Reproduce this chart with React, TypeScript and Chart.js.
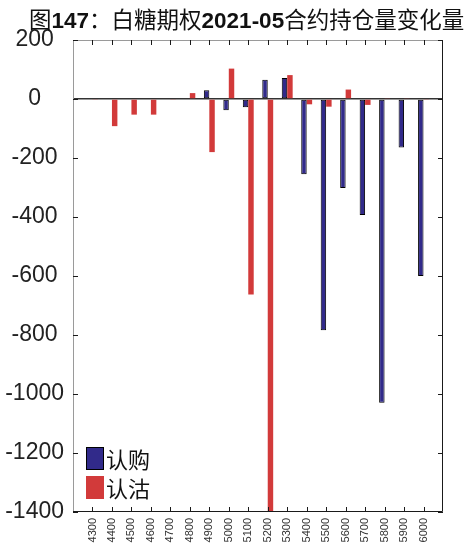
import React, { useEffect, useRef } from "react";
import { Chart, registerables } from "chart.js";

Chart.register(...registerables);

const strikes = [4300, 4400, 4500, 4600, 4700, 4800, 4900, 5000, 5100, 5200, 5300, 5400, 5500, 5600, 5700, 5800, 5900, 6000];
const callChange = [0, 0, 0, 0, 0, 0, 30, -38, -28, 65, 71, -255, -784, -302, -393, -1030, -164, -600];
const putChange = [-2, -92, -53, -53, -2, 20, -180, 103, -663, -1400, 81, -18, -26, 32, -20, 2, 3, -2];
const seriesNames = ["认购", "认沽"];
const yTicks = { min: -1400, max: 200, step: 200 };
const xRange = { min: 4200, max: 6100, step: 100 };

const BLUE = "#312a8a";
const RED = "#d23a3a";

const boxPlugin = {
  id: "boxTicks",
  afterDraw(chart: any) {
    const { ctx, chartArea: a, scales } = chart;
    ctx.save();
    ctx.lineWidth = 1;
    ctx.strokeStyle = "#9a9a9a";
    ctx.beginPath();
    ctx.moveTo(a.left + 0.5, a.bottom);
    ctx.lineTo(a.left + 0.5, a.top + 0.5);
    ctx.lineTo(a.right, a.top + 0.5);
    ctx.stroke();
    ctx.strokeStyle = "#1a1a1a";
    ctx.beginPath();
    ctx.moveTo(a.right - 0.5, a.top);
    ctx.lineTo(a.right - 0.5, a.bottom - 0.5);
    ctx.lineTo(a.left, a.bottom - 0.5);
    ctx.stroke();
    ctx.strokeStyle = "#1a1a1a";
    ctx.beginPath();
    for (const s of strikes) {
      const x = Math.round(scales.x.getPixelForValue(s)) + 0.5;
      ctx.moveTo(x, a.bottom);
      ctx.lineTo(x, a.bottom - 5);
      ctx.moveTo(x, a.top);
      ctx.lineTo(x, a.top + 5);
    }
    for (let v = yTicks.min; v <= yTicks.max; v += yTicks.step) {
      const y = Math.round(scales.y.getPixelForValue(v)) + 0.5;
      ctx.moveTo(a.left, y);
      ctx.lineTo(a.left + 5, y);
      ctx.moveTo(a.right, y);
      ctx.lineTo(a.right - 5, y);
    }
    ctx.stroke();
    ctx.restore();
  },
};

export default function App() {
  const ref = useRef<HTMLCanvasElement | null>(null);
  useEffect(() => {
    if (!ref.current) return;
    const chart = new Chart(ref.current, {
      type: "bar",
      data: {
        datasets: [
          {
            label: seriesNames[0],
            data: strikes.map((s, i) => ({ x: s, y: callChange[i] })),
            backgroundColor: BLUE,
            borderColor: "#000000",
            borderWidth: 1,
            borderSkipped: false,
            categoryPercentage: 0.56,
            barPercentage: 1,
          },
          {
            label: seriesNames[1],
            data: strikes.map((s, i) => ({ x: s, y: putChange[i] })),
            backgroundColor: RED,
            borderWidth: 0,
            categoryPercentage: 0.56,
            barPercentage: 1,
          },
        ],
      },
      options: {
        responsive: false,
        animation: false,
        devicePixelRatio: 1,
        layout: { padding: { top: 40, right: 28, left: 0, bottom: 0 } },
        plugins: { legend: { display: false }, title: { display: false }, tooltip: { enabled: false } },
        scales: {
          x: {
            type: "linear",
            min: xRange.min,
            max: xRange.max,
            offset: false,
            grid: { display: false, drawTicks: false },
            border: { display: false },
            afterFit: (s: any) => { s.height = 33; },
            ticks: {
              stepSize: xRange.step,
              autoSkip: false,
              maxRotation: 90,
              minRotation: 90,
              padding: 6,
              color: "#333333",
              font: { family: "'Liberation Sans', Arial, sans-serif", size: 11 },
              callback: (v: any) => (strikes.includes(Number(v)) ? String(v) : ""),
            },
          },
          y: {
            min: yTicks.min,
            max: yTicks.max,
            grid: {
              drawTicks: false,
              color: (c: any) => (c.tick && c.tick.value === 0 ? "#333333" : "rgba(0,0,0,0)"),
              lineWidth: (c: any) => (c.tick && c.tick.value === 0 ? 1.5 : 0),
            },
            border: { display: false },
            afterFit: (s: any) => { s.width = 73; },
            ticks: {
              stepSize: yTicks.step,
              padding: 9,
              crossAlign: "center",
              color: "#222222",
              font: { family: "'Liberation Sans', Arial, sans-serif", size: 23 },
              callback: (v: any) => String(v),
            },
          },
        },
      },
      plugins: [boxPlugin],
    });
    return () => chart.destroy();
  }, []);

  const cjk = "'Noto Sans CJK SC', 'Noto Sans', sans-serif";
  const latin = "'Liberation Sans', Arial, sans-serif";
  return (
    <div style={{ position: "absolute", left: 0, top: 0, width: 471, height: 545, background: "#fff" }}>
      <canvas ref={ref} width={471} height={545} style={{ position: "absolute", left: 0, top: 0 }} />
      <div
        style={{
          position: "absolute",
          left: 29,
          top: 7,
          fontSize: 22.5,
          lineHeight: "23px",
          whiteSpace: "nowrap",
          color: "#111",
          fontFamily: cjk,
        }}
      >
        <span>图</span>
        <span style={{ fontFamily: latin, fontWeight: "bold" }}>147</span>
        <span>：白糖期权</span>
        <span style={{ fontFamily: latin, fontWeight: "bold" }}>2021-05</span>
        <span>合约持仓量变化量</span>
      </div>
      {[0, 1].map((i) => (
        <div
          key={i}
          style={{
            position: "absolute",
            left: 86,
            top: 447 + i * 29,
            height: 23,
            display: "flex",
            alignItems: "center",
            fontFamily: cjk,
            fontSize: 22,
            color: "#111",
          }}
        >
          <div
            style={{
              width: i === 0 ? 16 : 18,
              height: i === 0 ? 21 : 23,
              background: i === 0 ? BLUE : RED,
              border: i === 0 ? "1px solid #000" : "none",
              marginRight: 2,
            }}
          />
          <span style={{ lineHeight: "23px" }}>{seriesNames[i]}</span>
        </div>
      ))}
    </div>
  );
}
